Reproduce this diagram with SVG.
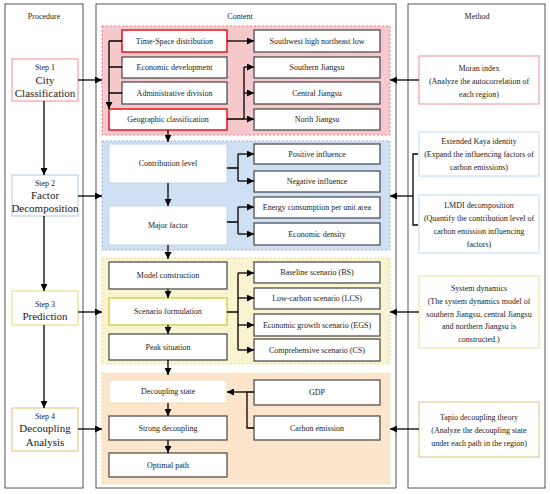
<svg xmlns="http://www.w3.org/2000/svg" width="550" height="494" viewBox="0 0 550 494">
<defs>
<marker id="ah" viewBox="0 0 10 10" refX="10" refY="5" markerWidth="7" markerHeight="7" markerUnits="userSpaceOnUse" orient="auto">
<path d="M0,0 L10,5 L0,10 z" fill="#000"/>
</marker>
<style>
text{font-family:"Liberation Serif","Times New Roman",serif;font-size:8px;fill:#222;text-anchor:middle;}
.big{font-size:11px;}
.col{fill:#fff;stroke:#555;stroke-width:1;}
.box{fill:#fff;stroke:#444;stroke-width:1.2;}
.red{fill:#fff;stroke:#e8202a;stroke-width:1.6;}
.c{fill:none;stroke:#000;stroke-width:1.3;}
.a{fill:none;stroke:#000;stroke-width:1.3;marker-end:url(#ah);}
</style>
</defs>
<rect width="550" height="494" fill="#fff"/>

<g id="columns">
<rect class="col" x="5" y="4" width="78" height="484"/>
<rect class="col" x="96" y="4" width="300" height="484"/>
<rect class="col" x="408" y="4" width="137" height="484"/>
<text x="44" y="19">Procedure</text>
<text x="240" y="19">Content</text>
<text x="477" y="19">Method</text>
</g>

<g id="regions">
<rect x="102" y="26" width="288" height="109" fill="#f5c8cb" stroke="#e8808e" stroke-width="1" stroke-dasharray="2,2"/>
<rect x="102" y="141" width="288" height="109" fill="#cfdff4" stroke="#98b0d8" stroke-width="1" stroke-dasharray="2,2"/>
<rect x="102" y="258" width="288" height="106" fill="#faf3cf" stroke="#e4da98" stroke-width="1" stroke-dasharray="2,2"/>
<rect x="102" y="373" width="288" height="111" fill="#fde5cc" stroke="#e4e0a4" stroke-width="1" stroke-dasharray="2,2"/>
</g>

<g id="step1"><rect x="12" y="59" width="66" height="42" fill="#fff" stroke="#f4a0a8" stroke-width="1.2"/>
<text x="45" y="70">Step 1</text><text class="big" x="45" y="84">City</text><text class="big" x="45" y="97">Classification</text></g>
<g id="step2"><rect x="12" y="175" width="66" height="41" fill="#fff" stroke="#b8d6ee" stroke-width="1.2"/>
<text x="45" y="186">Step 2</text><text class="big" x="45" y="199">Factor</text><text class="big" x="45" y="212">Decomposition</text></g>
<g id="step3"><rect x="12" y="291" width="66" height="34" fill="#fff" stroke="#e6e090" stroke-width="1.2"/>
<text x="45" y="307">Step 3</text><text class="big" x="45" y="320">Prediction</text></g>
<g id="step4"><rect x="12" y="408" width="66" height="43" fill="#fff" stroke="#e2cc8a" stroke-width="1.2"/>
<text x="45" y="419">Step 4</text><text class="big" x="45" y="432">Decoupling</text><text class="big" x="45" y="446">Analysis</text></g>

<g id="n-timespace"><rect class="red" x="122" y="30" width="105" height="22"/><text x="174.5" y="44">Time-Space distribution</text></g>
<g id="n-econdev"><rect class="box" x="122" y="57" width="105" height="21"/><text x="174.5" y="70">Economic development</text></g>
<g id="n-admin"><rect class="box" x="122" y="82" width="105" height="22"/><text x="174.5" y="96">Administrative division</text></g>
<g id="n-geo"><rect class="red" x="109" y="109" width="118" height="21"/><text x="168" y="122">Geographic classification</text></g>
<g id="n-sw"><rect class="box" x="254" y="30" width="126" height="22"/><text x="317" y="44">Southwest high northeast low</text></g>
<g id="n-south"><rect class="box" x="254" y="57" width="126" height="21"/><text x="317" y="70">Southern Jiangsu</text></g>
<g id="n-central"><rect class="box" x="254" y="82" width="126" height="22"/><text x="317" y="96">Central Jiangsu</text></g>
<g id="n-north"><rect class="box" x="254" y="109" width="126" height="21"/><text x="317" y="122">North Jiangsu</text></g>

<g id="n-contrib"><rect class="box" x="109" y="144" width="118" height="39" style="stroke:#c8d8ea"/><text x="168" y="166">Contribution level</text></g>
<g id="n-major"><rect class="box" x="109" y="206" width="118" height="39" style="stroke:#c8d8ea"/><text x="168" y="228">Major factor</text></g>
<g id="n-pos"><rect class="box" x="254" y="144" width="126" height="20"/><text x="317" y="157">Positive influence</text></g>
<g id="n-neg"><rect class="box" x="254" y="171" width="126" height="21"/><text x="317" y="184">Negative influence</text></g>
<g id="n-energy"><rect class="box" x="254" y="197" width="126" height="21"/><text x="317" y="210">Energy consumption per unit area</text></g>
<g id="n-density"><rect class="box" x="254" y="223" width="126" height="22"/><text x="317" y="237">Economic density</text></g>

<g id="n-model"><rect class="box" x="109" y="262" width="118" height="27"/><text x="168" y="278">Model construction</text></g>
<g id="n-scen"><rect class="box" x="109" y="298" width="118" height="27" style="stroke:#d4d45a;stroke-width:1.6"/><text x="168" y="314">Scenario formulation</text></g>
<g id="n-peak"><rect class="box" x="109" y="334" width="118" height="26"/><text x="168" y="350">Peak situation</text></g>
<g id="n-bs"><rect class="box" x="254" y="262" width="126" height="21"/><text x="317" y="275">Baseline scenario (BS)</text></g>
<g id="n-lcs"><rect class="box" x="254" y="288" width="126" height="21"/><text x="317" y="301">Low-carbon scenario (LCS)</text></g>
<g id="n-egs"><rect class="box" x="254" y="314" width="126" height="22"/><text x="317" y="328">Economic growth scenario (EGS)</text></g>
<g id="n-cs"><rect class="box" x="254" y="339" width="126" height="22"/><text x="317" y="353">Comprehensive scenario (CS)</text></g>

<g id="n-dstate"><rect class="box" x="109" y="380" width="118" height="23" style="stroke:#f6dcb8"/><text x="168" y="394">Decoupling state</text></g>
<g id="n-strong"><rect class="box" x="109" y="416" width="118" height="24"/><text x="168" y="431">Strong decoupling</text></g>
<g id="n-optimal"><rect class="box" x="109" y="453" width="118" height="24"/><text x="168" y="468">Optimal path</text></g>
<g id="n-gdp"><rect class="box" x="254" y="380" width="126" height="25"/><text x="317" y="395">GDP</text></g>
<g id="n-carbon"><rect class="box" x="254" y="416" width="126" height="24"/><text x="317" y="431">Carbon emission</text></g>

<g id="m-moran"><rect x="419" y="56" width="120" height="48" fill="#fff" stroke="#f4a0a8" stroke-width="1.2"/>
<text x="479" y="71">Moran index</text><text x="479" y="84">(Analyze the autocorrelation of</text><text x="479" y="97">each region)</text></g>
<g id="m-kaya"><rect x="419" y="132" width="120" height="44" fill="#fff" stroke="#c8e0f4" stroke-width="1.2"/>
<text x="479" y="144">Extended  Kaya identity</text><text x="479" y="157">(Expand the influencing factors of</text><text x="479" y="170">carbon emissions)</text></g>
<g id="m-lmdi"><rect x="419" y="195" width="120" height="58" fill="#fff" stroke="#c8e0f4" stroke-width="1.2"/>
<text x="479" y="208">LMDI decomposition</text><text x="479" y="221">(Quantify the contribution level of</text><text x="479" y="234">carbon emission influencing</text><text x="479" y="247">factors)</text></g>
<g id="m-sd"><rect x="419" y="276" width="120" height="72" fill="#fff" stroke="#ece6a0" stroke-width="1.2"/>
<text x="479" y="291">System dynamics</text><text x="479" y="304">(The system dynamics model of</text><text x="479" y="317">southern Jiangsu, central Jiangsu</text><text x="479" y="329">and northern Jiangsu is</text><text x="479" y="342">constructed.)</text></g>
<g id="m-tapio"><rect x="419" y="402" width="120" height="55" fill="#fff" stroke="#e0d090" stroke-width="1.2"/>
<text x="479" y="420">Tapio decoupling theory</text><text x="479" y="433">(Analyze the decoupling state</text><text x="479" y="446">under each path in the region)</text></g>

<g id="connectors">
<!-- procedure chain -->
<path class="a" d="M44,101 V175"/>
<path class="a" d="M44,216 V291"/>
<path class="a" d="M44,325 V408"/>
<!-- step to content -->
<path class="a" d="M78,80 H102"/>
<path class="a" d="M78,196 H102"/>
<path class="a" d="M78,312 H102"/>
<path class="a" d="M78,429 H102"/>
<!-- method to content -->
<path class="a" d="M419,80 H390"/>
<path class="c" d="M418,154 H413 V225 H418"/>
<path class="a" d="M413,196 H390"/>
<path class="a" d="M419,312 H390"/>
<path class="a" d="M419,429 H390"/>
<!-- region 1 -->
<path class="c" d="M122,41 H109 M122,67 H109 M122,93 H109"/>
<path class="a" d="M109,41 V109"/>
<path class="a" d="M227,41 H254"/>
<path class="c" d="M227,119 H244 M244,67 V119"/>
<path class="a" d="M244,67 H254"/>
<path class="a" d="M244,93 H254"/>
<path class="a" d="M244,119 H254"/>
<path class="a" d="M168,130 V142"/>
<!-- region 2 -->
<path class="a" d="M168,183 V206"/>
<path class="c" d="M227,168 H238 M238,154 V181"/>
<path class="a" d="M238,154 H254"/>
<path class="a" d="M238,181 H254"/>
<path class="c" d="M227,222 H238 M238,207 V234"/>
<path class="a" d="M238,207 H254"/>
<path class="a" d="M238,234 H254"/>
<path class="a" d="M168,245 V259"/>
<!-- region 3 -->
<path class="a" d="M168,289 V298"/>
<path class="a" d="M168,325 V334"/>
<path class="c" d="M227,312 H238 M238,273 V350"/>
<path class="a" d="M238,273 H254"/>
<path class="a" d="M238,298 H254"/>
<path class="a" d="M238,325 H254"/>
<path class="a" d="M238,350 H254"/>
<path class="a" d="M168,360 V375"/>
<!-- region 4 -->
<path class="c" d="M254,392 H247 V428 H254"/>
<path class="a" d="M247,392 H227"/>
<path class="a" d="M168,403 V416"/>
<path class="a" d="M168,440 V453"/>
</g>
</svg>
